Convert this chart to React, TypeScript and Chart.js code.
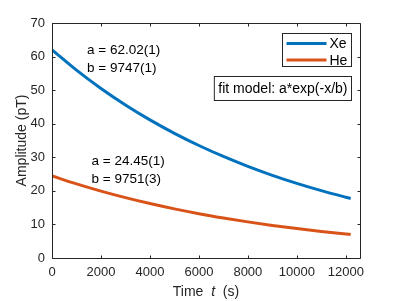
import React, { useEffect, useRef } from "react";
import { Chart, registerables } from "chart.js";

Chart.register(...registerables);

const timeValues = [0, 1000, 2000, 3000, 4000, 5000, 6000, 7000, 8000, 9000, 10000, 11000, 12000, 12200];
const xeValues = [62.02, 55.97, 50.51, 45.59, 41.14, 37.13, 33.51, 30.24, 27.3, 24.63, 22.23, 20.06, 18.11, 17.74];
const heValues = [24.45, 22.07, 19.92, 17.98, 16.22, 14.64, 13.21, 11.93, 10.76, 9.71, 8.77, 7.91, 7.14, 7.0];
const xTickValues = [0, 2000, 4000, 6000, 8000, 10000, 12000];
const yTickValues = [0, 10, 20, 30, 40, 50, 60, 70];
const seriesNames = ["Xe", "He"];
const xeFitText = ["a = 62.02(1)", "b = 9747(1)"];
const heFitText = ["a = 24.45(1)", "b = 9751(3)"];
const modelText = "fit model: a*exp(-x/b)";
const xAxisTitle = ["Time  ", "t", "  (s)"];
const yAxisTitle = "Amplitude (pT)";

const BLUE = "#0072BD";
const ORANGE = "#D95319";
const AXIS = "#262626";
const FONT = "'Liberation Sans', Arial, Helvetica, sans-serif";

const overlay = {
  id: "overlay",
  afterDraw(chart: any) {
    const { ctx, chartArea: a, scales } = chart;
    const L = Math.round(a.left) + 0.5;
    const R = Math.round(a.right) + 0.5;
    const T = Math.round(a.top) + 0.5;
    const B = Math.round(a.bottom) + 0.5;
    ctx.save();
    ctx.strokeStyle = AXIS;
    ctx.lineWidth = 1;
    ctx.beginPath();
    ctx.moveTo(L, T);
    ctx.lineTo(R, T);
    ctx.lineTo(R, B);
    ctx.lineTo(L, B);
    ctx.closePath();
    ctx.stroke();
    const tl = 3;
    ctx.beginPath();
    for (const t of scales.x.ticks) {
      const px = Math.round(scales.x.getPixelForValue(t.value)) + 0.5;
      ctx.moveTo(px, B);
      ctx.lineTo(px, B - tl);
      ctx.moveTo(px, T);
      ctx.lineTo(px, T + tl);
    }
    for (const t of scales.y.ticks) {
      const py = Math.round(scales.y.getPixelForValue(t.value)) + 0.5;
      ctx.moveTo(L, py);
      ctx.lineTo(L + tl, py);
      ctx.moveTo(R, py);
      ctx.lineTo(R - tl, py);
    }
    ctx.stroke();

    // x axis title with italic t
    ctx.fillStyle = AXIS;
    ctx.textBaseline = "middle";
    ctx.textAlign = "left";
    const fonts = [`14px ${FONT}`, `italic 14px ${FONT}`, `14px ${FONT}`];
    let total = 0;
    const widths = xAxisTitle.map((s, i) => {
      ctx.font = fonts[i];
      const w = ctx.measureText(s).width;
      total += w;
      return w;
    });
    let x0 = (a.left + a.right) / 2 - total / 2;
    xAxisTitle.forEach((s, i) => {
      ctx.font = fonts[i];
      ctx.fillText(s, x0, 292);
      x0 += widths[i];
    });

    // y axis title
    ctx.save();
    ctx.translate(22, (a.top + a.bottom) / 2);
    ctx.rotate(-Math.PI / 2);
    ctx.textAlign = "center";
    ctx.font = `14px ${FONT}`;
    ctx.fillText(yAxisTitle, 0, 0);
    ctx.restore();

    // fit annotations
    ctx.font = `13.5px ${FONT}`;
    ctx.textAlign = "left";
    ctx.fillStyle = "#000";
    ctx.fillText(xeFitText[0], a.left + 35, a.top + 27);
    ctx.fillText(xeFitText[1], a.left + 35, a.top + 45);
    ctx.fillText(heFitText[0], a.left + 39.5, a.top + 138.5);
    ctx.fillText(heFitText[1], a.left + 39.5, a.top + 156.5);

    // legend box
    const lx = 282.5, ly = 33.5, lw = 69, lh = 33;
    ctx.fillStyle = "#fff";
    ctx.fillRect(lx, ly, lw, lh);
    ctx.strokeStyle = AXIS;
    ctx.strokeRect(lx, ly, lw, lh);
    const colors = [BLUE, ORANGE];
    ctx.font = `14px ${FONT}`;
    seriesNames.forEach((n, i) => {
      const yy = ly + 10 + i * 16.5;
      ctx.strokeStyle = colors[i];
      ctx.lineWidth = 3;
      ctx.beginPath();
      ctx.moveTo(lx + 4, yy);
      ctx.lineTo(lx + 44, yy);
      ctx.stroke();
      ctx.fillStyle = "#000";
      ctx.fillText(n, lx + 47, yy + 1);
    });

    // model box
    ctx.lineWidth = 1;
    ctx.strokeStyle = AXIS;
    ctx.font = `14px ${FONT}`;
    const mw = ctx.measureText(modelText).width;
    const bx = 351.5 - (mw + 8), by = 76.5, bh = 24;
    ctx.fillStyle = "#fff";
    ctx.fillRect(bx, by, mw + 8, bh);
    ctx.strokeRect(bx, by, mw + 8, bh);
    ctx.fillStyle = "#000";
    ctx.fillText(modelText, bx + 4, by + bh / 2 + 1);
    ctx.restore();
  },
};

export default function App() {
  const ref = useRef<HTMLCanvasElement>(null);
  useEffect(() => {
    document.body.style.margin = "0";
    const chart = new Chart(ref.current as HTMLCanvasElement, {
      type: "line",
      data: {
        datasets: [
          {
            label: seriesNames[0],
            data: timeValues.map((t, i) => ({ x: t, y: xeValues[i] })),
            borderColor: BLUE,
            borderWidth: 3,
            pointRadius: 0,
            cubicInterpolationMode: "monotone",
          },
          {
            label: seriesNames[1],
            data: timeValues.map((t, i) => ({ x: t, y: heValues[i] })),
            borderColor: ORANGE,
            borderWidth: 3,
            pointRadius: 0,
            cubicInterpolationMode: "monotone",
          },
        ],
      },
      options: {
        animation: false,
        responsive: false,
        events: [],
        layout: { padding: { top: 23, right: 39, left: 0, bottom: 0 } },
        plugins: { legend: { display: false }, tooltip: { enabled: false } },
        scales: {
          x: {
            type: "linear",
            min: 0,
            max: 12580,
            grid: { display: false, drawTicks: false },
            border: { display: false },
            ticks: {
              autoSkip: false,
              maxRotation: 0,
              padding: 7,
              color: AXIS,
              font: { family: FONT, size: 13 },
              callback: (v: any) => String(v),
            },
            afterBuildTicks: (s: any) => {
              s.ticks = xTickValues.map((v) => ({ value: v }));
            },
            afterFit: (s: any) => {
              s.height = 43;
            },
          },
          y: {
            min: 0,
            max: 70,
            grid: { display: false, drawTicks: false },
            border: { display: false },
            ticks: {
              autoSkip: false,
              padding: 7,
              color: AXIS,
              font: { family: FONT, size: 13 },
              callback: (v: any) => String(v),
            },
            afterBuildTicks: (s: any) => {
              s.ticks = yTickValues.map((v) => ({ value: v }));
            },
            afterFit: (s: any) => {
              s.width = 52;
            },
          },
        },
      },
      plugins: [overlay],
    });
    return () => chart.destroy();
  }, []);
  return <canvas ref={ref} width={399} height={301} style={{ display: "block" }} />;
}
